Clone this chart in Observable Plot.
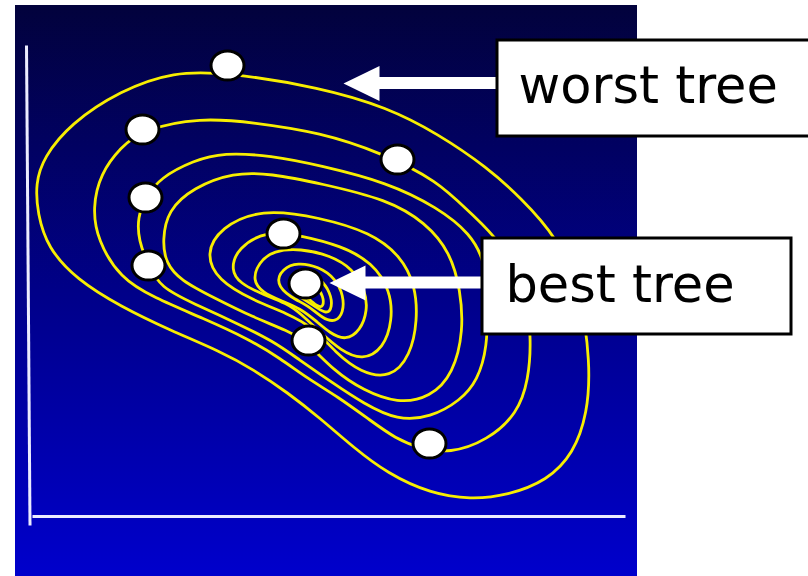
<!DOCTYPE html>
<html>
<head>
<meta charset="utf-8">
<script src="https://cdn.jsdelivr.net/npm/d3@7"></script>
<script src="https://cdn.jsdelivr.net/npm/@observablehq/plot@0.6"></script>
<style>
  html, body { margin: 0; padding: 0; background: #ffffff; }
  #chart svg { display: block; }
</style>
</head>
<body>
<div id="chart"></div>
<script>
// Likelihood surface over tree space: closed contour rings, outermost first.
const ring1 = [[90,426],[143,445],[197,444],[290,429],[357,409],[407,383],[457,349],[490,319],[527,279],[550,226],[560,153],[557,103],[543,63],[517,36],[477,21],[440,17],[400,23],[357,43],[323,69],[290,98],[257,124],[223,147],[190,165],[140,186],[90,210],[46,237],[17,269],[7,303],[5,333],[13,359],[40,393]];
const ring2 = [[112,387],[170,399],[223,394],[290,384],[350,364],[407,336],[440,303],[470,276],[495,226],[501,179],[498,136],[487,103],[457,76],[419,63],[390,68],[365,78],[340,96],[307,120],[277,138],[250,158],[217,178],[173,198],[123,219],[90,238],[67,276],[62,309],[70,343],[90,369]];
const ring3 = [[115,319],[130,339],[163,356],[193,364],[240,361],[290,351],[357,334],[407,309],[440,283],[455,254],[457,216],[457,169],[447,136],[430,116],[400,99],[367,96],[333,113],[303,133],[267,158],[243,175],[207,193],[163,213],[130,229],[118,251],[108,276],[107,299]];
const ring4 = [[132,276],[137,306],[163,329],[203,344],[240,343],[290,333],[357,317],[395,294],[420,264],[430,226],[433,186],[423,143],[400,119],[367,113],[333,126],[303,146],[277,174],[257,186],[223,199],[183,219],[150,236],[135,254]];
const ring5 = [[175,263],[190,289],[230,308],[290,299],[340,284],[370,261],[385,231],[387,196],[380,161],[360,138],[330,144],[305,164],[283,189],[257,203],[223,216],[187,236]];
const ring6 = [[200,246],[207,269],[237,286],[270,281],[310,271],[342,254],[360,226],[362,196],[353,168],[332,156],[310,166],[290,184],[270,203],[257,213],[230,223],[210,233]];
const ring7 = [[222,236],[228,254],[243,266],[270,268],[300,261],[322,248],[335,226],[337,206],[330,186],[315,176],[300,183],[285,196],[270,208],[250,216],[232,224]];
const ring8 = [[245,233],[252,248],[267,254],[288,250],[305,238],[313,221],[313,204],[305,194],[292,198],[278,211],[260,219]];
const ring9 = [[257,229],[263,241],[275,244],[290,238],[300,224],[302,209],[296,202],[285,210],[270,219]];
const ring10 = [[266,226],[275,234],[286,231],[293,220],[293,210],[288,209],[278,218]];
const contours = [ring1, ring2, ring3, ring4, ring5, ring6, ring7, ring8, ring9, ring10];

// Trees visited by the search (white markers).
const trees = [[197,451],[112,387],[367,357],[115,319],[253,283],[118,251],[275,233],[278,176],[399,73]];

// Callouts: label text, where the arrow points, where it starts, and the text box.
const calloutText = ["worst tree", "best tree"];
const calloutTip = [[313,433],[299,233.5]];
const calloutTail = [467, 452];
const calloutTextAt = [[488,414],[475,215]];
const calloutBox = [[467,800,380,476],[452,761,182,278]];

// Axes of tree space and the backdrop panel.
const axisLines = [[-4,471,-0.5,-9],[2,0,595,0]];
const panel = [[-15,607,-60,511]];

const HEAD_LEN = 36, HEAD_HALF = 17.5, SHAFT_HALF = 6;

// Slightly flattened marker: an ellipse drawn with four cubic arcs.
const ellipseSymbol = {
  draw(context, size) {
    const rx = Math.sqrt(size / Math.PI), ry = rx * 0.88, k = 0.5523;
    context.moveTo(rx, 0);
    context.bezierCurveTo(rx, k * ry, k * rx, ry, 0, ry);
    context.bezierCurveTo(-k * rx, ry, -rx, k * ry, -rx, 0);
    context.bezierCurveTo(-rx, -k * ry, -k * rx, -ry, 0, -ry);
    context.bezierCurveTo(k * rx, -ry, rx, -k * ry, rx, 0);
    context.closePath();
  }
};

const contourRows = contours.flatMap((ring, level) => ring.map(([x, y]) => ({level, x, y})));
const treeRows = trees.map(([x, y]) => ({x, y}));
const callouts = calloutText.map((text, i) => ({
  text,
  tipX: calloutTip[i][0], y: calloutTip[i][1], tail: calloutTail[i],
  tx: calloutTextAt[i][0], ty: calloutTextAt[i][1],
  bx1: calloutBox[i][0], bx2: calloutBox[i][1], by1: calloutBox[i][2], by2: calloutBox[i][3]
}));
const heads = callouts.flatMap((c, i) => [
  {id: i, x: c.tipX, y: c.y},
  {id: i, x: c.tipX + HEAD_LEN, y: c.y + HEAD_HALF},
  {id: i, x: c.tipX + HEAD_LEN, y: c.y - HEAD_HALF}
]);

const chart = Plot.plot({
  width: 808,
  height: 576,
  marginLeft: 30,
  marginRight: 183,
  marginTop: 45,
  marginBottom: 60,
  x: {domain: [0, 595], axis: null},
  y: {domain: [0, 471], axis: null},
  style: {background: "white"},
  marks: [
    Plot.rect(panel, {x1: d => d[0], x2: d => d[1], y1: d => d[2], y2: d => d[3], fill: "url(#panelGradient)"}),
    Plot.line(contourRows, {x: "x", y: "y", z: "level", curve: "basis-closed", stroke: "#f8ee00", strokeWidth: 2.8}),
    Plot.link(axisLines, {x1: d => d[0], y1: d => d[1], x2: d => d[2], y2: d => d[3], stroke: "#ececff", strokeWidth: 3}),
    Plot.dot(treeRows, {x: "x", y: "y", r: 16.5, symbol: ellipseSymbol, fill: "white", stroke: "black", strokeWidth: 3}),
    Plot.rect(callouts, {x1: d => d.tipX + HEAD_LEN - 1, x2: "tail", y1: d => d.y - SHAFT_HALF, y2: d => d.y + SHAFT_HALF, fill: "white"}),
    Plot.line(heads, {x: "x", y: "y", z: "id", curve: "linear-closed", fill: "white", stroke: "none"}),
    Plot.rect(callouts, {x1: "bx1", x2: "bx2", y1: "by1", y2: "by2", fill: "white", stroke: "black", strokeWidth: 3}),
    Plot.text(callouts, {x: "tx", y: "ty", text: "text", textAnchor: "start", lineAnchor: "bottom",
      fontSize: 51, fontFamily: "DejaVu Sans", fill: "black"})
  ]
});

// Vertical gradient for the backdrop panel, dark navy at the top to bright blue at the bottom.
const defs = d3.select(chart).insert("defs", ":first-child");
const grad = defs.append("linearGradient")
  .attr("id", "panelGradient").attr("x1", 0).attr("y1", 0).attr("x2", 0).attr("y2", 1);
[["0%", "#02023c"], ["50%", "#000088"], ["100%", "#0000cc"]].forEach(([offset, color]) =>
  grad.append("stop").attr("offset", offset).attr("stop-color", color));

document.getElementById("chart").appendChild(chart);
</script>
</body>
</html>
